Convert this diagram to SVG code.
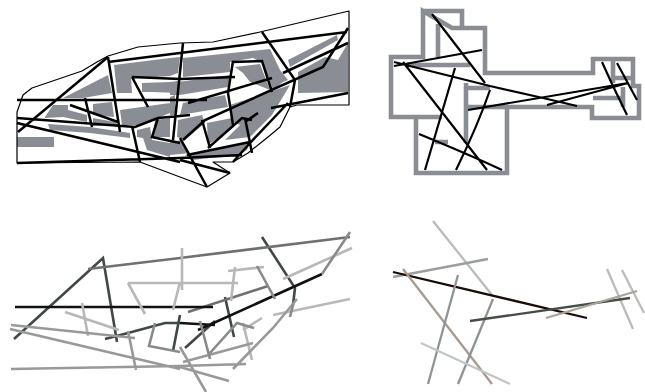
<svg xmlns="http://www.w3.org/2000/svg" width="645" height="392" viewBox="0 0 645 392">
<style>
.b{fill:#8a8d94;stroke:none}
.o{fill:none;stroke:#000;stroke-width:1.2;stroke-linejoin:round}
.k,.t,.w,.l,.c{fill:none;stroke-linecap:butt;stroke-linejoin:miter}
.k{stroke:#000;stroke-width:2.5}
.t{stroke:#000;stroke-width:2.2}
.w{stroke:#8a8d94;stroke-width:4.6}
.l{stroke-width:2.6}
.c{stroke-width:2.3}
</style>
<g id="plan-a">
<path class="b" d="M114 65L170 58 180 57 178 73 170 76 141 78 131 77 132 93 117 93ZM142 83L170 82 178 81 178 93 153 92 142 92ZM63 98L108 75 112 93 83 98ZM45 117L53 105 68 105 68 110 87 115 87 122 63 117 45 118ZM93 104L112 102 114 117 93 115ZM93 118L115 122 118 125 93 126ZM120 110L170 103 170 113 160 117 140 125 122 125ZM48 124L90 127 130 133 130 138 90 133 50 130ZM137 130L150 127 152 140 170 143 170 157 147 150 143 138 137 137ZM155 120L170 118 170 137 153 137ZM17 137H54V147H17ZM183 58L270 49 280 70 288 80 283 82 273 90 263 63 253 58 230 62 230 72 183 77ZM235 67L260 64 270 90 250 82 243 73ZM170 83L230 75 228 87 180 95 170 95ZM183 103L225 95 228 107 180 115ZM170 97L175 95 175 115 170 115ZM230 105L290 85 272 115 250 137 225 140 240 125 233 122ZM178 120L202 115 205 123 185 140 177 137ZM207 123L232 118 233 127 208 145ZM170 142L182 140 190 153 170 155ZM185 155L250 142 247 150 237 155 193 160ZM288 60L337 35 338 40 290 67ZM298 72L325 57 338 60 348 43V92L298 93Z"/>
<path class="o" d="M17 163V112L23 95 32 88 82 71 97 62 108 56 138 47 180 43 213 42 260 32 349 11V105H297L290 107 280 127 268 137 248 153 233 162 213 162 230 173 207 187 180 177 140 162Z"/>
</g>
<g id="plan-b">
<path class="w" d="M423 11H462V27M452 28H485V73H593V59H633V86H639V118H592V107H507V173H416V117H391V57H423V11ZM438 24V57M407 65H470M416 117H442M435 142H448M466 83V143M466 88H490M466 107H507M593 98H625M613 60V83M613 78H633M623 87V107"/>
</g>
<g id="connectors">
<g id="links-a">
<path class="k" d="M18 132L108 57M108 57L120 132M108 62L180 53 347 32M17 100H207M17 118L135 127 158 118 180 116 190 115M17 123L180 162M17 163L180 158 242 155M132 126L140 162M70 105L118 122M85 98L92 127M132 77L148 107M132 77L180 79 235 77M183 43L173 140M158 118L152 137 180 143M262 32L295 80 290 107M188 103L272 78M232 62L262 61 272 92M233 61L228 93 233 125M283 73L348 43M348 28L323 67 205 120 183 140M271 108L348 93M258 113L245 122M202 120L210 148M208 148L242 118 252 120M245 118L252 153M288 103L250 143 233 162M187 155L250 142M180 160L230 173M180 138L207 187"/>
</g>
<g id="links-b">
<path class="t" d="M432 14L485 83M394 66L482 50M394 62L490 86 543 98 577 106M403 62L487 170M455 68L425 170M490 90Q478 125 456 170M419 134Q470 155 502 170M468 110L628 83M547 105L628 83M602 62L612 84 627 115M617 63L637 100"/>
</g>
<g id="links-c">
<path class="l" stroke="#3f4747" d="M14 339L103 258 117 342M105 339L128 333 165 323H180M225 297L234 337M215 321L185 348M180 315L173 351M262 237L295 288 293 305"/>
<path class="l" stroke="#707070" d="M88 269L180 258 350 237M188 312L268 286"/>
<path class="l" stroke="#111" d="M15 307H213M180 323L215 325M198 330L322 274"/>
<path class="l" stroke="#b8b8b8" d="M182 248V290M180 282L173 310M128 283H238M128 283L145 314M82 303L88 336M65 312L119 330M228 271L264 267M235 267L231 301M283 279L352 248M273 315L350 299M243 323L252 360M262 318L243 330"/>
<path class="l" stroke="#999" d="M11 325L135 338M10 329L180 369M11 369L180 366 246 364M128 331L136 370M297 299L273 328 233 369M183 362L253 343M180 367L229 381M180 347L206 392"/>
<path class="l" stroke="#8a8a8a" d="M155 323L149 346 180 352M257 266L275 299M322 274L350 232M293 305L290 317M200 321L210 359M210 353L237 323 254 328"/>
</g>
<g id="links-d">
<path class="c" stroke="#b8bcbc" d="M433 221L492 295M607 269L633 329M622 270L644 313"/>
<path class="c" stroke="#9a9e9e" d="M393 277L488 259"/>
<path class="c" stroke="#1a0a08" d="M393 272L587 318"/>
<path class="c" stroke="#a89a90" d="M403 269L492 384"/>
<path class="c" stroke="#8f9394" d="M458 275L428 384M493 299L458 384"/>
<path class="c" stroke="#c0c8c4" d="M421 343L510 384"/>
<path class="c" stroke="#454d45" d="M470 321L630 298"/>
<path class="c" stroke="#a8a49c" d="M546 318L637 291"/>
</g>
</g>
</svg>
